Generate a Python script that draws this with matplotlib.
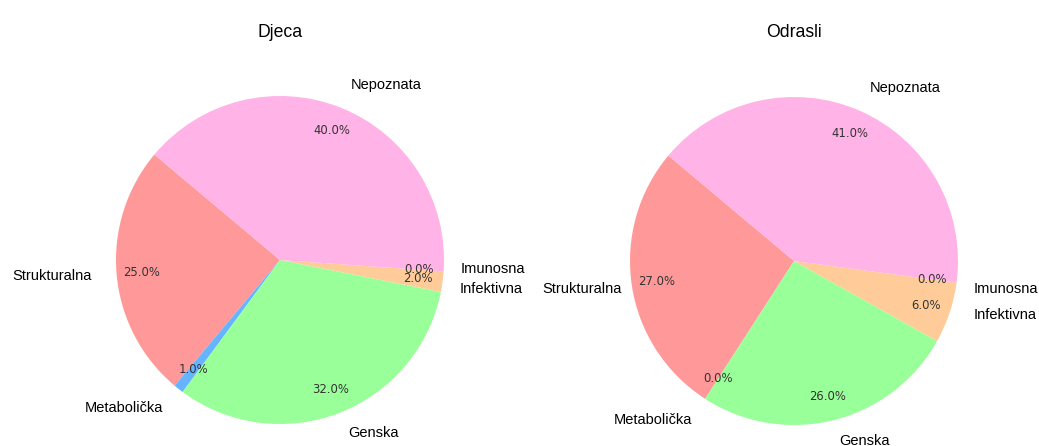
import matplotlib
matplotlib.use("Agg")
from matplotlib import pyplot as plt

# data
categories = ["Strukturalna", "Metabolička", "Genska", "Infektivna", "Imunosna", "Nepoznata"]
djeca = [25, 1, 32, 2, 0, 40]
odrasli = [27, 0, 26, 6, 0, 41]
titles = ["Djeca", "Odrasli"]
colors = ["#ff9999", "#66b3ff", "#99ff99", "#ffcc99", "#c2c2f0", "#ffb3e6"]

W, H = 1039, 446
fig = plt.figure(figsize=(W / 100, H / 100), dpi=100)

# pie centres / radius in pixels
centres = [(280, 260), (794, 261)]
radius = 164
half = radius * 1.25

# small label nudges (pixels, x right / y up) so the stacked labels don't collide
nudges = [
    {"Imunosna": (-8, 4), "Infektivna": (-7, -4), "Genska": (0, 3)},
    {"Strukturalna": (14, 0), "Imunosna": (-7, -3), "Infektivna": (1, 6), "Genska": (0, 3)},
]

for (cx, cy), vals, title, nudge in zip(centres, [djeca, odrasli], titles, nudges):
    ax = fig.add_axes([(cx - half) / W, (H - cy - half) / H, 2 * half / W, 2 * half / H])
    wedges, texts, autotexts = ax.pie(vals, labels=categories, colors=colors,
                                      autopct="%1.1f%%", startangle=140,
                                      pctdistance=0.85, labeldistance=1.15)
    for t in texts:
        t.set_fontfamily("Liberation Sans")
        t.set_fontsize(10.5)
        dx, dy = nudge.get(t.get_text(), (0, 0))
        x, y = t.get_position()
        t.set_position((x + dx / radius, y + dy / radius))
    for t in autotexts:
        t.set_fontsize(8.4)
        t.set_color("#333333")
    ax.set_xlim(-1.25, 1.25)
    ax.set_ylim(-1.25, 1.25)
    ax.set_aspect("equal")
    ax.set_title(title, fontfamily="Liberation Sans", fontsize=12.7,
                 y=(H - 37 - (H - cy - half)) / (2 * half), pad=0)

fig.savefig("out.png", dpi=100)
